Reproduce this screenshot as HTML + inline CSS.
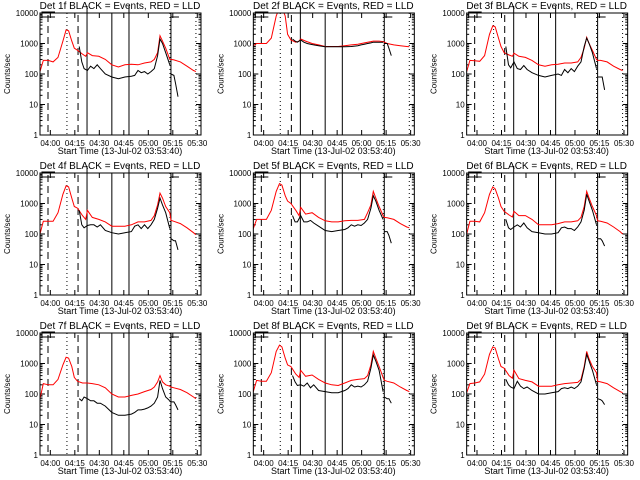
<!DOCTYPE html>
<html><head><meta charset="utf-8"><style>
html,body{margin:0;padding:0;background:#fff}
svg{display:block}
text{font-family:"Liberation Sans",sans-serif;fill:#000}
</style></head><body>
<svg id="chart" width="640" height="480" viewBox="0 0 640 480" xmlns="http://www.w3.org/2000/svg">
<rect x="0" y="0" width="640" height="480" fill="#fff"/>
</svg>
<script>
const panelTitles=["Det 1f","Det 2f","Det 3f","Det 4f","Det 5f","Det 6f","Det 7f","Det 8f","Det 9f"];
const yTickValues=[1,10,100,1000,10000];
const yTickLabels=["1","10","100","1000","10000"];
const xTickMinutes=[6.33,21.33,36.33,51.33,66.33,81.33,96.33];
const xTickLabels=["04:00","04:15","04:30","04:45","05:00","05:15","05:30"];
const dashedMarks=[4.9,23.3];
const dottedMarks=[16.5,79.6,95.5];
const solidMarks=[28.8,44,54.5,80.2];
const redTimes=[0,2,5,8,11,14,16,17.5,19.5,21,23,26,28,29,32,36,40,44,48,52,56,60,64,68,70,72,73.5,75,77,79.5,80.2,82,86,90,94,95.5];
const blackTimes=[24,25.6,27,29,31,33,35,37,40,44,48,52,56,58,60,62,64,66,68,70,72,73.5,75,77,79.5];
const tailTimes=[80.2,82,83,84.5];
const red1=[120,280,280,250,350,1200,2800,2600,1200,700,600,450,380,500,400,380,300,200,170,200,210,200,230,250,300,500,1800,1200,700,300,300,290,250,180,130,120];
const red2=[850,1000,1000,1000,1500,8000,15000,15000,8000,2000,1300,1100,1200,1400,1200,1000,900,800,800,800,850,900,950,1050,1100,1150,1200,1200,1200,1150,1100,1000,900,850,800,780];
const red3=[120,280,270,260,400,2000,3800,3500,1500,800,500,420,380,480,380,350,280,200,180,200,210,230,230,250,350,700,1600,1000,600,300,280,280,250,180,140,130];
const red4=[100,260,260,260,500,2000,3800,3500,1500,800,700,400,300,600,350,300,250,180,180,180,200,250,250,280,400,900,2200,1500,800,500,280,260,220,160,110,95];
const red5=[150,300,300,300,600,2500,4500,4000,1800,1200,1000,600,400,750,450,500,350,270,250,250,270,280,280,300,500,900,2500,1500,800,400,350,340,300,220,170,160];
const red6=[100,260,260,250,500,2000,3500,3000,1500,800,550,420,360,550,400,400,300,200,200,200,220,250,250,270,350,800,2500,1500,800,400,270,260,230,170,120,100];
const red7=[70,220,200,200,300,900,1600,1500,800,350,260,230,230,230,220,200,160,100,80,80,90,100,120,140,170,250,400,250,200,180,170,160,140,110,80,70];
const red8=[120,280,260,260,500,2500,4000,3500,1500,900,800,450,350,600,380,420,300,230,200,190,230,280,300,320,400,900,2500,1500,800,350,280,260,230,170,130,120];
const red9=[110,220,230,250,450,2000,3500,3200,1400,800,700,400,330,600,320,280,250,180,180,180,200,220,230,240,300,800,2500,1400,800,500,260,250,220,160,120,110];
const black1=[800,250,150,130,180,150,200,150,100,80,70,80,85,90,130,110,120,100,120,150,400,1400,1000,500,200];
const black2=[1400,1200,1100,1300,1100,1000,950,900,850,780,780,780,780,790,800,820,850,900,950,1000,1050,1100,1100,1100,1100];
const black3=[800,200,160,250,150,140,190,140,110,90,80,90,100,90,140,110,150,120,180,250,800,1500,1000,500,150];
const black4=[600,200,160,190,200,200,170,200,130,110,100,110,120,180,200,150,200,150,200,300,700,1500,900,500,150];
const black5=[400,250,250,400,250,250,280,230,180,130,120,130,140,160,200,180,200,190,230,300,700,1800,1200,600,300];
const black6=[300,160,140,170,200,170,230,160,120,110,100,100,110,160,170,150,150,130,170,250,600,2000,1200,600,200];
const black7=[70,60,80,70,60,60,50,50,40,25,20,20,22,25,30,30,32,35,40,50,80,280,150,80,60];
const black8=[400,250,190,200,180,230,160,200,130,120,110,110,130,150,200,170,180,170,200,260,700,1900,1200,600,120];
const black9=[300,200,170,150,260,180,150,170,130,100,100,110,120,150,160,150,170,150,180,250,700,2000,1200,600,200];
const tail1=[100,90,50,18];
const tail2=[1000,1000,700,400];
const tail3=[80,80,80,30];
const tail4=[70,60,60,30];
const tail5=[120,120,90,50];
const tail6=[70,70,60,40];
const tail7=[55,55,45,30];
const tail8=[80,70,70,50];
const tail9=[70,65,60,45];
const redSeries=[red1,red2,red3,red4,red5,red6,red7,red8,red9];
const blackSeries=[black1,black2,black3,black4,black5,black6,black7,black8,black9];
const tailSeries=[tail1,tail2,tail3,tail4,tail5,tail6,tail7,tail8,tail9];

const NS="http://www.w3.org/2000/svg";
const svg=document.getElementById("chart");
const TMAX=98.6;
function mk(tag,attrs,parent){const e=document.createElementNS(NS,tag);for(const k in attrs)e.setAttribute(k,attrs[k]);parent.appendChild(e);return e;}

for(let p=0;p<9;p++){
  const col=p%3,row=Math.floor(p/3);
  const ox=col*213.33, oy=row*160;
  const L=ox+40,R=ox+201,T=oy+13,B=oy+135;
  const xs=t=>L+t/TMAX*(R-L);
  const ys=v=>B-Math.log10(v)*(B-T)/4;
  const g=mk("g",{},svg);
  
  
  const cid="clip"+p;
  const cp=mk("clipPath",{id:cid},g);
  mk("rect",{x:L,y:T,width:R-L,height:B-T},cp);
  // title
  const title=mk("text",{x:ox+120,y:oy+9,"font-size":"10","text-anchor":"middle"},g);
  title.textContent=panelTitles[p]+" BLACK = Events, RED = LLD";
  
  
  // y axis title
  const yt=mk("text",{x:0,y:0,"font-size":"8","text-anchor":"middle",transform:`translate(${ox+10},${oy+74}) rotate(-90)`},g);
  yt.textContent="Counts/sec";
  
  
  // x axis title
  const xt=mk("text",{x:ox+120,y:oy+154,"font-size":"9","text-anchor":"middle"},g);
  xt.textContent="Start Time (13-Jul-02 03:53:40)";
  
  
  // y ticks
  for(let i=0;i<yTickValues.length;i++){
    const y=ys(yTickValues[i]);
    mk("line",{x1:L,y1:y,x2:L+5,y2:y,stroke:"#000","stroke-width":1},g);
    mk("line",{x1:R,y1:y,x2:R-5,y2:y,stroke:"#000","stroke-width":1},g);
    const lb=mk("text",{x:L-2,y:y+3,"font-size":"8","text-anchor":"end"},g);
    lb.textContent=yTickLabels[i];
    
    
    if(i<yTickValues.length-1){
      for(let m=2;m<10;m++){
        const ym=ys(yTickValues[i]*m);
        mk("line",{x1:L,y1:ym,x2:L+2.5,y2:ym,stroke:"#000","stroke-width":1},g);
        mk("line",{x1:R,y1:ym,x2:R-2.5,y2:ym,stroke:"#000","stroke-width":1},g);
      }
    }
  }
  // x ticks
  for(let i=0;i<xTickMinutes.length;i++){
    const x=xs(xTickMinutes[i]);
    if(x<=R+0.5){
      mk("line",{x1:x,y1:B,x2:x,y2:B-5,stroke:"#000","stroke-width":1},g);
      mk("line",{x1:x,y1:T,x2:x,y2:T+5,stroke:"#000","stroke-width":1},g);
    }
    const lb=mk("text",{x:x,y:oy+146,"font-size":"8","text-anchor":"middle"},g);
    lb.textContent=xTickLabels[i];
    
    
  }
  // marker lines
  dashedMarks.forEach(t=>{const x=xs(t);const l=mk("line",{x1:x,y1:T+2,x2:x,y2:B,stroke:"#000","stroke-width":1,"stroke-dasharray":"7,4"},g);});
  dottedMarks.forEach(t=>{const x=xs(t);const l=mk("line",{x1:x,y1:T,x2:x,y2:B,stroke:"#000","stroke-width":1,"stroke-dasharray":"1,3"},g);});
  solidMarks.forEach((t,k)=>{const x=xs(t);const top=(k===0||k===2)?oy+6:T;const l=mk("line",{x1:x,y1:top,x2:x,y2:B,stroke:"#000","stroke-width":1},g);});
  // small top brackets
  mk("polyline",{points:`${L+15},${T+4} ${L+2},${T+4} ${L+2},${T-1} ${L+15},${T-1}`,fill:"none",stroke:"#000","stroke-width":1},g);
  mk("polyline",{points:`${xs(80.2)},${T+1} ${xs(80.2)},${T+4} ${xs(80.2)+8},${T+4}`,fill:"none",stroke:"#000","stroke-width":1},g);
  // series
  const rp=redTimes.map((t,i)=>xs(t).toFixed(1)+","+ys(redSeries[p][i]).toFixed(1)).join(" ");
  const rl=mk("polyline",{points:rp,fill:"none",stroke:"#ff0000","stroke-width":1,"clip-path":`url(#${cid})`},g);
  
  
  const bp=blackTimes.map((t,i)=>xs(t).toFixed(1)+","+ys(blackSeries[p][i]).toFixed(1)).join(" ");
  const bl=mk("polyline",{points:bp,fill:"none",stroke:"#000","stroke-width":1,"clip-path":`url(#${cid})`},g);
  
  
  const tp=tailTimes.map((t,i)=>xs(t).toFixed(1)+","+ys(tailSeries[p][i]).toFixed(1)).join(" ");
  const tl=mk("polyline",{points:tp,fill:"none",stroke:"#000","stroke-width":1,"clip-path":`url(#${cid})`},g);
  
  
  // box
  const bx=mk("rect",{x:L,y:T,width:R-L,height:B-T,fill:"none",stroke:"#000","stroke-width":1},g);
  
  
}
</script>
</body></html>
